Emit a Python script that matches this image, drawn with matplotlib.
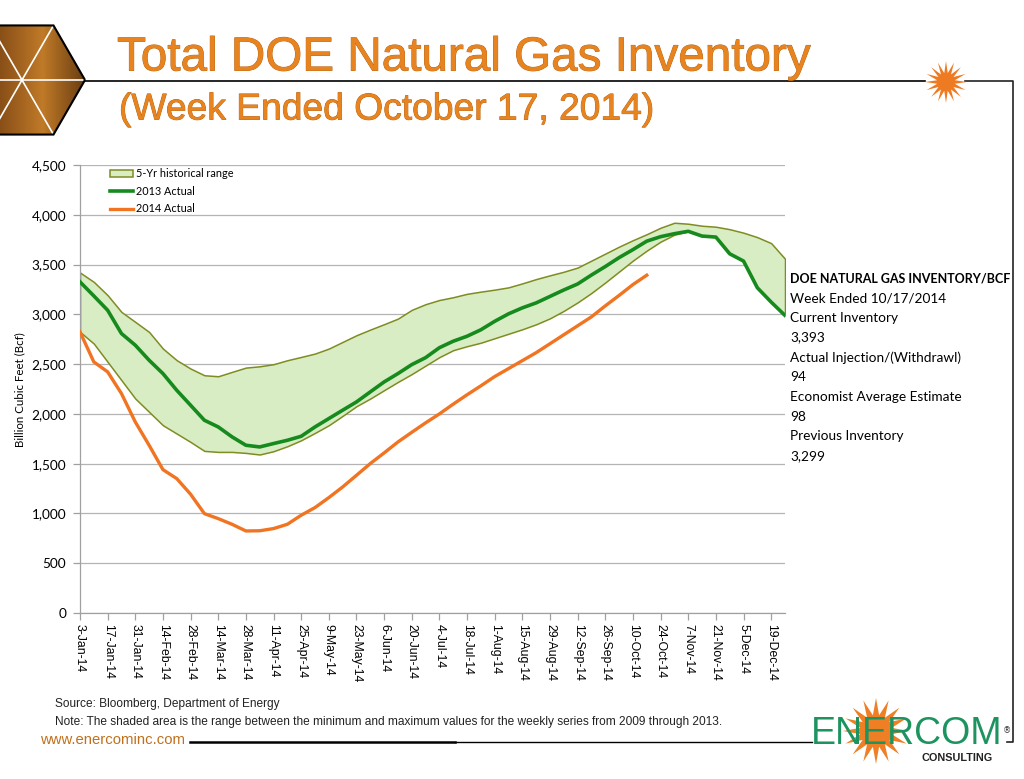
import numpy as np
import matplotlib
matplotlib.use('Agg')
import matplotlib.pyplot as plt
from matplotlib.patches import Polygon
from matplotlib.lines import Line2D
import matplotlib.patches as mpatches
import matplotlib.patheffects as pe

# ---------------- data ----------------
tick_labels = ['3-Jan-14', '17-Jan-14', '31-Jan-14', '14-Feb-14', '28-Feb-14', '14-Mar-14',
               '28-Mar-14', '11-Apr-14', '25-Apr-14', '9-May-14', '23-May-14', '6-Jun-14',
               '20-Jun-14', '4-Jul-14', '18-Jul-14', '1-Aug-14', '15-Aug-14', '29-Aug-14',
               '12-Sep-14', '26-Sep-14', '10-Oct-14', '24-Oct-14', '7-Nov-14', '21-Nov-14',
               '5-Dec-14', '19-Dec-14']

range_max = [3420, 3326, 3192, 3024, 2924, 2823, 2656, 2539, 2455, 2388, 2378, 2422, 2465, 2478,
             2499, 2539, 2572, 2606, 2656, 2723, 2790, 2847, 2901, 2957, 3045, 3102, 3144, 3172,
             3206, 3228, 3248, 3271, 3311, 3354, 3392, 3428, 3470, 3540, 3610, 3680, 3745, 3805,
             3870, 3920, 3910, 3890, 3880, 3855, 3820, 3775, 3715, 3558]

range_min = [2824, 2706, 2522, 2338, 2154, 2020, 1886, 1802, 1718, 1628, 1618, 1618, 1608, 1592,
             1625, 1675, 1735, 1809, 1886, 1980, 2077, 2154, 2238, 2321, 2400, 2485, 2570, 2640,
             2680, 2715, 2760, 2805, 2850, 2900, 2960, 3035, 3120, 3215, 3320, 3430, 3540, 3640,
             3730, 3800, 3833, 3786, 3776, 3608, 3535, 3267, 3123, 2989]

actual_2013 = [3326, 3185, 3041, 2807, 2690, 2539, 2405, 2237, 2087, 1936, 1869, 1769, 1685, 1668,
               1702, 1735, 1775, 1869, 1953, 2037, 2120, 2221, 2321, 2405, 2495, 2565, 2665, 2730,
               2780, 2845, 2930, 3005, 3065, 3115, 3180, 3245, 3305, 3395, 3480, 3570, 3650, 3735,
               3780, 3810, 3834, 3786, 3776, 3608, 3535, 3267, 3123, 2989]

actual_2014 = [2824, 2522, 2422, 2204, 1919, 1685, 1440, 1350, 1193, 998, 948, 891, 824, 826,
               848, 891, 982, 1059, 1159, 1266, 1383, 1501, 1608, 1718, 1815, 1910, 2000, 2098,
               2192, 2282, 2375, 2455, 2535, 2615, 2705, 2795, 2885, 2975, 3085, 3190, 3299, 3393]

y_ticks = [0, 500, 1000, 1500, 2000, 2500, 3000, 3500, 4000, 4500]

info_lines = ['Week Ended 10/17/2014', 'Current Inventory', '3,393',
              'Actual Injection/(Withdrawl)', '94', 'Economist Average Estimate', '98',
              'Previous Inventory', '3,299']

# ---------------- figure ----------------
W, H = 1024, 779
fig = plt.figure(figsize=(W / 100, H / 100), dpi=100)
fig.patch.set_facecolor('white')

deco = fig.add_axes([0, 0, 1, 1], zorder=0)
deco.set_xlim(0, W)
deco.set_ylim(H, 0)
deco.axis('off')


def star_pts(cx, cy, ro, ri, n):
    ang = np.linspace(0, 2 * np.pi, 2 * n, endpoint=False) - np.pi / 2
    r = np.where(np.arange(2 * n) % 2 == 0, ro, ri)
    return np.column_stack([cx + r * np.cos(ang), cy + r * np.sin(ang)])


# hexagon picture top-left
hc = (22, 80)
hr = 63
hang = np.deg2rad(np.arange(0, 360, 60))
hex_pts = np.column_stack([hc[0] + hr * np.cos(hang), hc[1] + hr * np.sin(hang)])
grad = np.linspace(0, 1, 100).reshape(-1, 1) * np.ones((1, 60))
cmap = matplotlib.colors.LinearSegmentedColormap.from_list(
    'br', ['#3a2208', '#8a5018', '#c07a28', '#6a3e12'])
img = deco.imshow(grad.T, cmap=cmap, extent=(hc[0] - hr, hc[0] + hr, hc[1] + hr, hc[1] - hr),
                  aspect='auto', zorder=1)
hexpoly = Polygon(hex_pts, closed=True, facecolor='none', edgecolor='black', lw=1.5, zorder=3)
deco.add_patch(hexpoly)
img.set_clip_path(hexpoly)
for k in range(3):
    p1, p2 = hex_pts[k], hex_pts[k + 3]
    ln = Line2D([p1[0], p2[0]], [p1[1], p2[1]], color='white', lw=1.2, zorder=2)
    deco.add_line(ln)
    ln.set_clip_path(hexpoly)

# frame lines
deco.add_line(Line2D([85, 925], [81, 81], color='black', lw=1.2))
deco.add_line(Line2D([965, 1013, 1013, 1007], [81, 81, 742, 742], color='#222222', lw=1.2))
deco.add_line(Line2D([190, 455], [742, 742], color='black', lw=1.8))
deco.add_line(Line2D([455, 812], [742, 742], color='black', lw=1.0))

# small star near title line
deco.add_patch(Polygon(star_pts(946, 82, 21, 9, 16), closed=True, facecolor='#ee7a22',
                       edgecolor='none', zorder=3))

# Enercom logo
deco.add_patch(Polygon(star_pts(876, 731, 33, 16, 16), closed=True, facecolor='#ee7f24',
                       edgecolor='none', zorder=3))
deco.text(811, 734, 'ENERCOM', fontsize=27, color='#1d9360', family='Liberation Sans',
          va='center', ha='left', zorder=4)
deco.text(1007, 731, '®', fontsize=6, color='#333333', va='center', ha='center', zorder=4)
deco.text(993, 758, 'CONSULTING', fontsize=7.8, weight='bold', color='#222222',
          family='Liberation Sans', va='center', ha='right', zorder=4)

# titles
title_fx = [pe.withStroke(linewidth=0.6, foreground='#b5600f')]
deco.text(117, 58, 'Total DOE Natural Gas Inventory', fontsize=34.3, color='#e8841f',
          family='Liberation Sans', va='center', ha='left', path_effects=title_fx)
deco.text(119, 110, '(Week Ended October 17, 2014)', fontsize=26.8, color='#e8841f',
          family='Liberation Sans', va='center', ha='left', path_effects=title_fx)

# notes
deco.text(55, 704, 'Source: Bloomberg, Department of Energy', fontsize=8.6, color='#222222',
          family='Liberation Sans', va='center', ha='left')
deco.text(55, 722, 'Note: The shaded area is the range between the minimum and maximum values for the weekly series from 2009 through 2013.',
          fontsize=8.6, color='#222222', family='Liberation Sans', va='center', ha='left')
deco.text(40, 740, 'www.enercominc.com', fontsize=10.7, color='#c0701c',
          family='Liberation Sans', va='center', ha='left')

# info block
deco.text(790, 278, 'DOE NATURAL GAS INVENTORY/BCF', fontsize=9.0, weight='bold', color='black',
          family='Lato', va='center', ha='left')
for k, s in enumerate(info_lines):
    deco.text(790, 298 + k * 19.75, s, fontsize=9.8, color='black', family='Lato',
              va='center', ha='left')

# y label
deco.text(20, 390, 'Billion Cubic Feet (Bcf)', fontsize=8.3, rotation=90, family='Lato',
          va='center', ha='center', color='black')

# ---------------- chart ----------------
ax = fig.add_axes([80 / W, 1 - 613 / H, (785 - 80) / W, (613 - 165) / H], zorder=2)
ax.patch.set_alpha(0)
x_all = np.arange(len(range_max))
x_2014 = np.arange(len(actual_2014))

ax.fill_between(x_all, range_min, range_max, facecolor='#d8edc4', edgecolor='#7f8c22',
                linewidth=1.1, zorder=2)
l13, = ax.plot(x_all, actual_2013, color='#178a1e', lw=2.6, zorder=3, solid_joinstyle='round')
l14, = ax.plot(x_2014, actual_2014, color='#f07422', lw=2.4, zorder=4, solid_joinstyle='round')

ax.set_xlim(0, len(range_max) - 1)
ax.set_ylim(0, 4500)
ax.set_yticks(y_ticks)
ax.set_yticklabels([f'{v:,}' for v in y_ticks], family='Lato', fontsize=9.8)
ax.set_xticks(np.arange(0, len(range_max), 2))
ax.set_xticklabels(tick_labels, rotation=-90, family='Liberation Sans', fontsize=8.8,
                   ha='center', va='top')
ax.grid(axis='y', color='#b4b4b4', lw=0.9)
ax.set_axisbelow(True)
for s in ['top', 'right']:
    ax.spines[s].set_visible(False)
for s in ['left', 'bottom']:
    ax.spines[s].set_color('#a0a0a0')
    ax.spines[s].set_linewidth(0.9)
ax.tick_params(axis='both', direction='out', length=5, color='#a0a0a0', width=0.9, pad=3)
ax.tick_params(axis='y', pad=5)

patch = mpatches.Patch(facecolor='#d8edc4', edgecolor='#7f8c22', linewidth=1.1)
ax.legend([patch, l13, l14], ['5-Yr historical range', '2013 Actual', '2014 Actual'],
          loc='upper left', bbox_to_anchor=(0.037, 1.003), frameon=False,
          prop={'family': 'Lato', 'size': 7.8}, handlelength=2.1, handleheight=0.6,
          labelspacing=0.62, handletextpad=0.25, borderaxespad=0)

fig.savefig('out.png', dpi=100, facecolor='white')
